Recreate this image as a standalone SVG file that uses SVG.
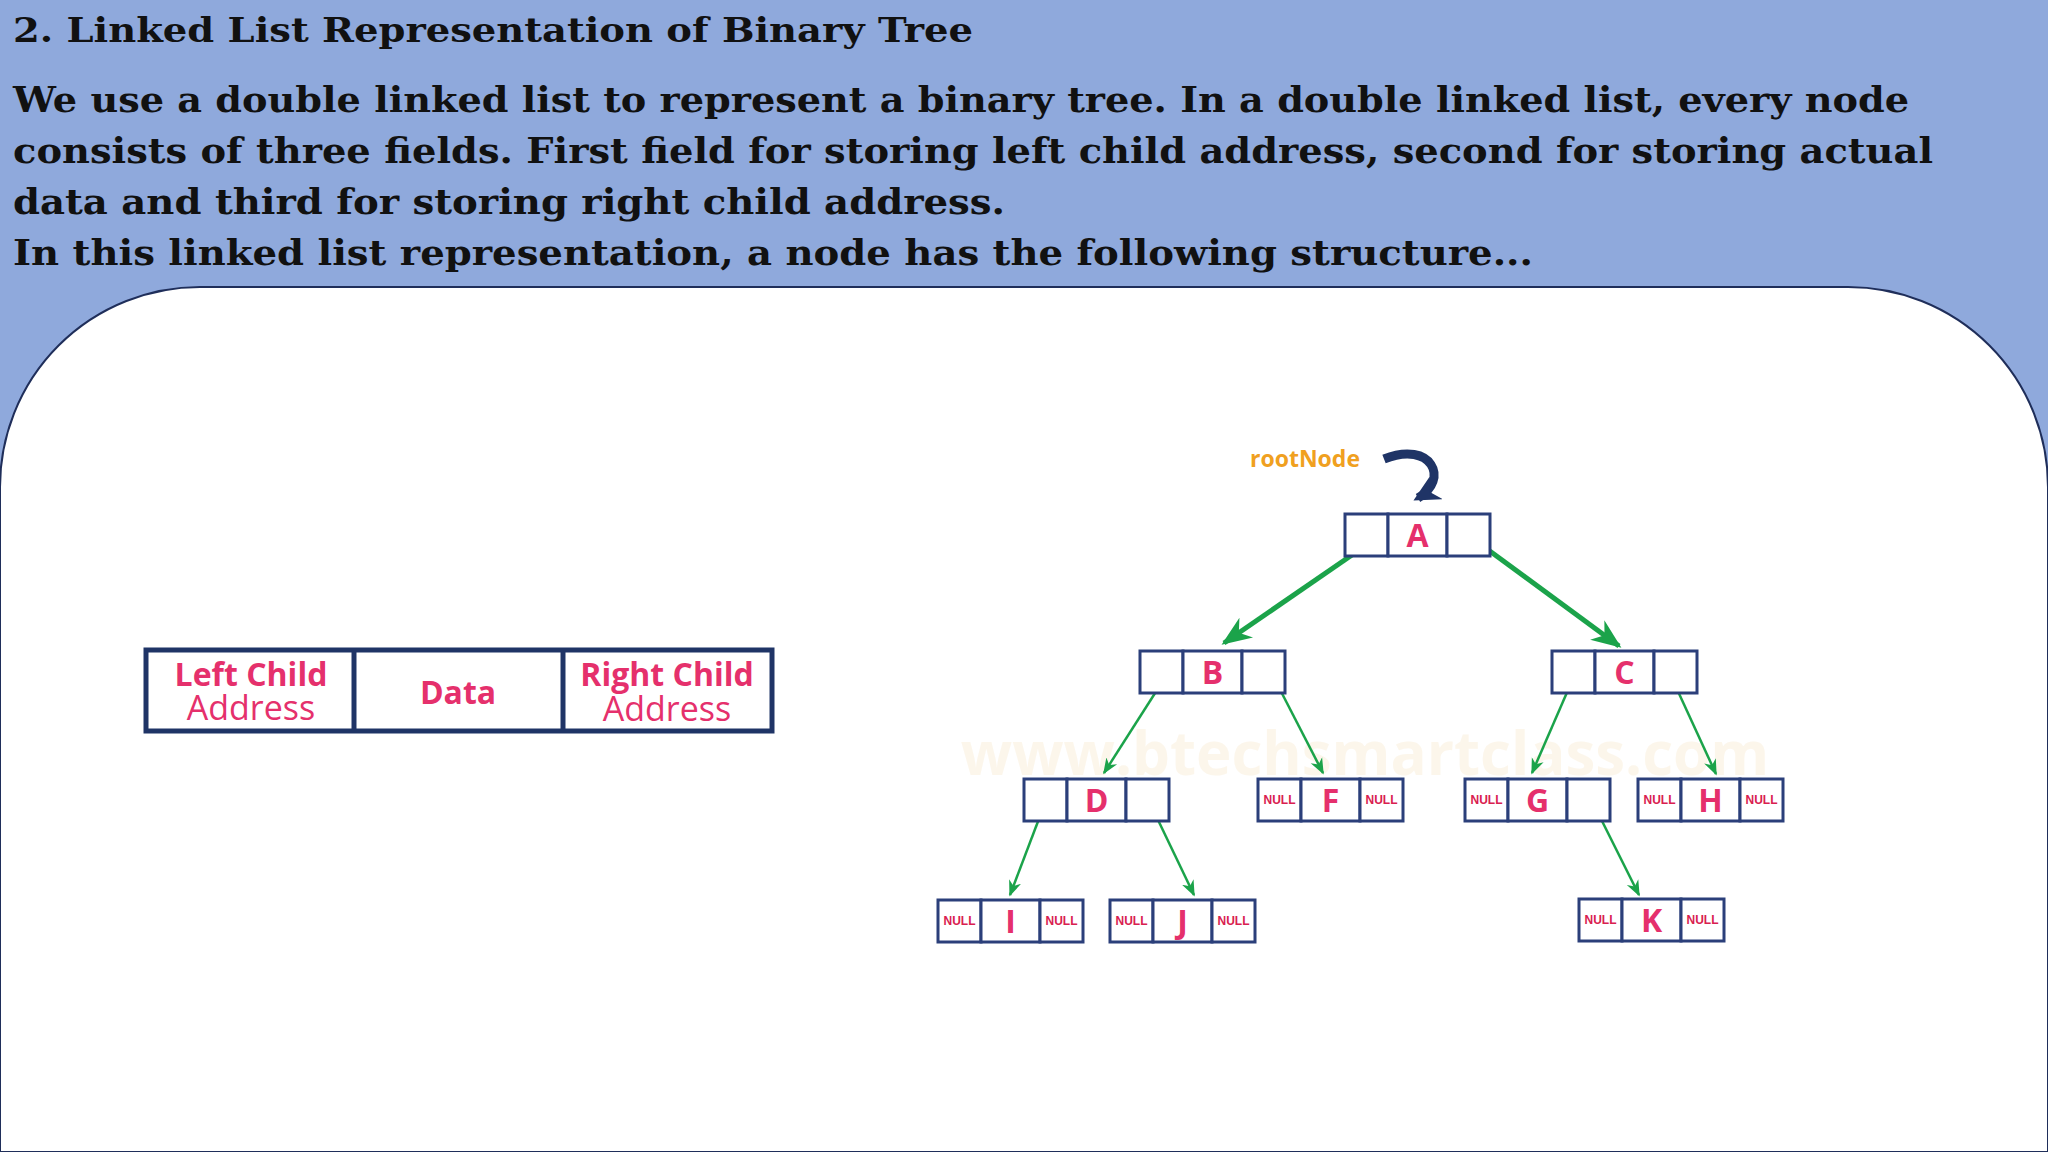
<svg xmlns="http://www.w3.org/2000/svg" width="2048" height="1152" viewBox="0 0 2048 1152">
<defs>
<style>
.h{font-family:"DejaVu Serif",serif;font-weight:bold;fill:#111}
.cell{fill:#fff;stroke:#2B3F7A;stroke-width:3}
.lt{font-family:"Open Sans","Noto Sans",sans-serif;font-weight:bold;fill:#E5306C;font-size:32px;text-anchor:middle}
.nl{font-family:"Liberation Sans",sans-serif;font-weight:bold;fill:#D9204F;font-size:12px;text-anchor:middle}
.g{stroke:#1BA34A;fill:none}
</style>
<marker id="ah" viewBox="0 0 10 10" refX="9" refY="5" markerWidth="16" markerHeight="16" orient="auto" markerUnits="userSpaceOnUse"><path d="M0,1 L10,5 L0,9 L3,5 Z" fill="#1BA34A"/></marker>
<marker id="ahs" viewBox="0 0 10 10" refX="9" refY="5" markerWidth="30" markerHeight="30" orient="auto" markerUnits="userSpaceOnUse"><path d="M0,1 L10,5 L0,9 L3,5 Z" fill="#1BA34A"/></marker>
<marker id="ahb" viewBox="0 0 10 10" refX="8" refY="5" markerWidth="26" markerHeight="26" orient="auto" markerUnits="userSpaceOnUse"><path d="M0,0 L10,5 L0,10 L3,5 Z" fill="#1F3466"/></marker>
</defs>
<rect width="2048" height="1152" fill="#8FA9DC"/>
<path d="M0,1152 L0,487 A200,200 0 0 1 200,287 L1848,287 A200,200 0 0 1 2048,487 L2048,1152 Z" fill="#fff" stroke="#1F2E5A" stroke-width="2"/>
<text class="h" x="13" y="42" font-size="34" textLength="960" lengthAdjust="spacingAndGlyphs">2. Linked List Representation of Binary Tree</text>
<text class="h" x="13" y="112" font-size="36" textLength="1896" lengthAdjust="spacingAndGlyphs">We use a double linked list to represent a binary tree. In a double linked list, every node</text>
<text class="h" x="13" y="163" font-size="36" textLength="1920" lengthAdjust="spacingAndGlyphs">consists of three fields. First field for storing left child address, second for storing actual</text>
<text class="h" x="13" y="214" font-size="36" textLength="992" lengthAdjust="spacingAndGlyphs">data and third for storing right child address.</text>
<text class="h" x="13" y="265" font-size="36" textLength="1520" lengthAdjust="spacingAndGlyphs">In this linked list representation, a node has the following structure...</text>

<text x="1365" y="775" font-family="Open Sans,sans-serif" font-weight="bold" font-size="60" fill="#FBEFD9" opacity="0.5" text-anchor="middle">www.btechsmartclass.com</text>

<g id="structure">
<rect x="146" y="650" width="626" height="81" fill="#fff" stroke="#1F3466" stroke-width="5"/>
<line x1="354" y1="650" x2="354" y2="731" stroke="#1F3466" stroke-width="5"/>
<line x1="563" y1="650" x2="563" y2="731" stroke="#1F3466" stroke-width="5"/>
<text class="lt" x="251" y="686" font-size="36">Left Child</text>
<text x="251" y="720" font-family="Open Sans,sans-serif" font-size="34" fill="#E5306C" text-anchor="middle">Address</text>
<text class="lt" x="458" y="704" font-size="36">Data</text>
<text class="lt" x="667" y="686" font-size="36">Right Child</text>
<text x="667" y="721" font-family="Open Sans,sans-serif" font-size="34" fill="#E5306C" text-anchor="middle">Address</text>
</g>

<g id="rootNode">
<text x="1250" y="467" font-family="Open Sans,sans-serif" font-weight="bold" font-size="23" fill="#F0A020">rootNode</text>
<path d="M1384,459 C1432,440 1450,480 1418,498" fill="none" stroke="#1F3466" stroke-width="9" marker-end="url(#ahb)"/>
</g>

<g id="connectors">
<line class="g" x1="1365" y1="546" x2="1224" y2="643" stroke-width="5" marker-end="url(#ahs)"/>
<line class="g" x1="1472" y1="538" x2="1619" y2="646" stroke-width="5" marker-end="url(#ahs)"/>
<line class="g" x1="1166" y1="676" x2="1104" y2="773" stroke-width="2.5" marker-end="url(#ah)"/>
<line class="g" x1="1273" y1="676" x2="1323" y2="773" stroke-width="2.5" marker-end="url(#ah)"/>
<line class="g" x1="1045" y1="803" x2="1010" y2="895" stroke-width="2.5" marker-end="url(#ah)"/>
<line class="g" x1="1147" y1="797" x2="1194" y2="895" stroke-width="2.5" marker-end="url(#ah)"/>
<line class="g" x1="1575" y1="674" x2="1532" y2="773" stroke-width="2.5" marker-end="url(#ah)"/>
<line class="g" x1="1670" y1="674" x2="1716" y2="774" stroke-width="2.5" marker-end="url(#ah)"/>
<line class="g" x1="1591" y1="799" x2="1639" y2="895" stroke-width="2.5" marker-end="url(#ah)"/>
</g>

<g id="A" transform="translate(1345,514)"><rect class="cell" width="43" height="42"/><rect class="cell" x="43" width="59" height="42"/><rect class="cell" x="102" width="43" height="42"/><text class="lt" x="72.5" y="33">A</text></g>
<g id="B" transform="translate(1140,651)"><rect class="cell" width="43" height="42"/><rect class="cell" x="43" width="59" height="42"/><rect class="cell" x="102" width="43" height="42"/><text class="lt" x="72.5" y="33">B</text></g>
<g id="C" transform="translate(1552,651)"><rect class="cell" width="43" height="42"/><rect class="cell" x="43" width="59" height="42"/><rect class="cell" x="102" width="43" height="42"/><text class="lt" x="72.5" y="33">C</text></g>
<g id="D" transform="translate(1024,779)"><rect class="cell" width="43" height="42"/><rect class="cell" x="43" width="59" height="42"/><rect class="cell" x="102" width="43" height="42"/><text class="lt" x="72.5" y="33">D</text></g>
<g id="F" transform="translate(1258,779)"><rect class="cell" width="43" height="42"/><rect class="cell" x="43" width="59" height="42"/><rect class="cell" x="102" width="43" height="42"/><text class="nl" x="21.5" y="25">NULL</text><text class="lt" x="72.5" y="33">F</text><text class="nl" x="123.5" y="25">NULL</text></g>
<g id="G" transform="translate(1465,779)"><rect class="cell" width="43" height="42"/><rect class="cell" x="43" width="59" height="42"/><rect class="cell" x="102" width="43" height="42"/><text class="nl" x="21.5" y="25">NULL</text><text class="lt" x="72.5" y="33">G</text></g>
<g id="H" transform="translate(1638,779)"><rect class="cell" width="43" height="42"/><rect class="cell" x="43" width="59" height="42"/><rect class="cell" x="102" width="43" height="42"/><text class="nl" x="21.5" y="25">NULL</text><text class="lt" x="72.5" y="33">H</text><text class="nl" x="123.5" y="25">NULL</text></g>
<g id="I" transform="translate(938,900)"><rect class="cell" width="43" height="42"/><rect class="cell" x="43" width="59" height="42"/><rect class="cell" x="102" width="43" height="42"/><text class="nl" x="21.5" y="25">NULL</text><text class="lt" x="72.5" y="33">I</text><text class="nl" x="123.5" y="25">NULL</text></g>
<g id="J" transform="translate(1110,900)"><rect class="cell" width="43" height="42"/><rect class="cell" x="43" width="59" height="42"/><rect class="cell" x="102" width="43" height="42"/><text class="nl" x="21.5" y="25">NULL</text><text class="lt" x="72.5" y="33">J</text><text class="nl" x="123.5" y="25">NULL</text></g>
<g id="K" transform="translate(1579,899)"><rect class="cell" width="43" height="42"/><rect class="cell" x="43" width="59" height="42"/><rect class="cell" x="102" width="43" height="42"/><text class="nl" x="21.5" y="25">NULL</text><text class="lt" x="72.5" y="33">K</text><text class="nl" x="123.5" y="25">NULL</text></g>
</svg>
